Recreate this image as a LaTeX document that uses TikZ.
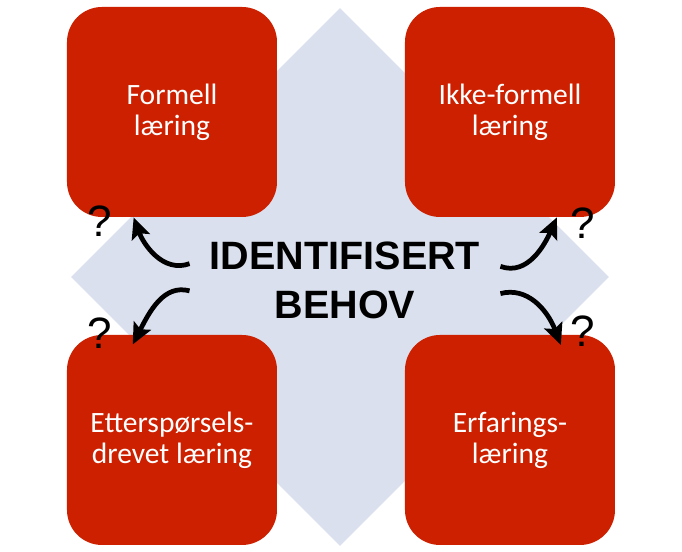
\documentclass[tikz,border=0pt]{standalone}
\usepackage{fontspec}
\setmainfont{Carlito}
\newfontfamily\arialfont{Liberation Sans}
\usetikzlibrary{positioning,shapes.geometric,arrows.meta}
\definecolor{boxred}{RGB}{204,32,0}
\definecolor{needblue}{RGB}{218,224,237}
\tikzset{
  ground/.style={diamond,fill=needblue,inner sep=0pt,minimum width=10.76cm,minimum height=10.76cm},
  form/.style={rectangle,rounded corners=0.7cm,fill=boxred,minimum size=4.2cm,text=white,align=center,font=\fontsize{16.8pt}{17.6pt}\selectfont},
  headline/.style={align=center,inner xsep=0.4cm,inner ysep=0pt,font=\arialfont\bfseries\fontsize{22.5pt}{27.9pt}\selectfont},
  query/.style={inner sep=0pt,font=\arialfont\fontsize{25pt}{25pt}\selectfont},
  pull/.style={line width=2.7pt,-{Stealth[length=0.42cm,width=0.38cm,inset=0.08cm]}}
}

\begin{document}
\begin{tikzpicture}[on grid]
    \useasboundingbox (-6.8,-5.5) rectangle (6.84,5.54);

    % Define the background diamond and the four forms of learning
    \node [ground] (bg) at (0,0) {};
    \node [form, above left=3.3cm and 3.36cm of bg]  (formal)     {Formell\\læring};
    \node [form, above right=3.3cm and 3.4cm of bg]  (informal)   {Ikke-formell\\læring};
    \node [form, below left=3.26cm and 3.36cm of bg] (demand)     {Etterspørsels-\\drevet læring};
    \node [form, below right=3.26cm and 3.4cm of bg] (experience) {Erfarings-\\læring};

    % The need in the middle
    \node [headline] (need) at (0.1,-0.06) {IDENTIFISERT\\BEHOV};

    % Question marks at the corners
    \node [query, below right=0.08cm and 0.66cm of formal.south west, anchor=center]    (qf) {?};
    \node [query, below left=0.12cm and 0.66cm of informal.south east, anchor=center]   (qi) {?};
    \node [query, above right=0.02cm and 0.66cm of demand.north west, anchor=center]    (qd) {?};
    \node [query, above left=0.06cm and 0.66cm of experience.north east, anchor=center] (qe) {?};

    % Draw the arrows from the need to each form
    \draw [pull] (need.174) to [out=200,in=-70] (formal.-110);
    \draw [pull] (need.5)   to [out=-20,in=-114] (informal.-66);
    \draw [pull, shorten >=-0.22cm] (need.184) to [out=165,in=63] (demand.108);
    \draw [pull, shorten >=-0.22cm] (need.-5)  to [out=15,in=111] (experience.66);
\end{tikzpicture}
\end{document}
